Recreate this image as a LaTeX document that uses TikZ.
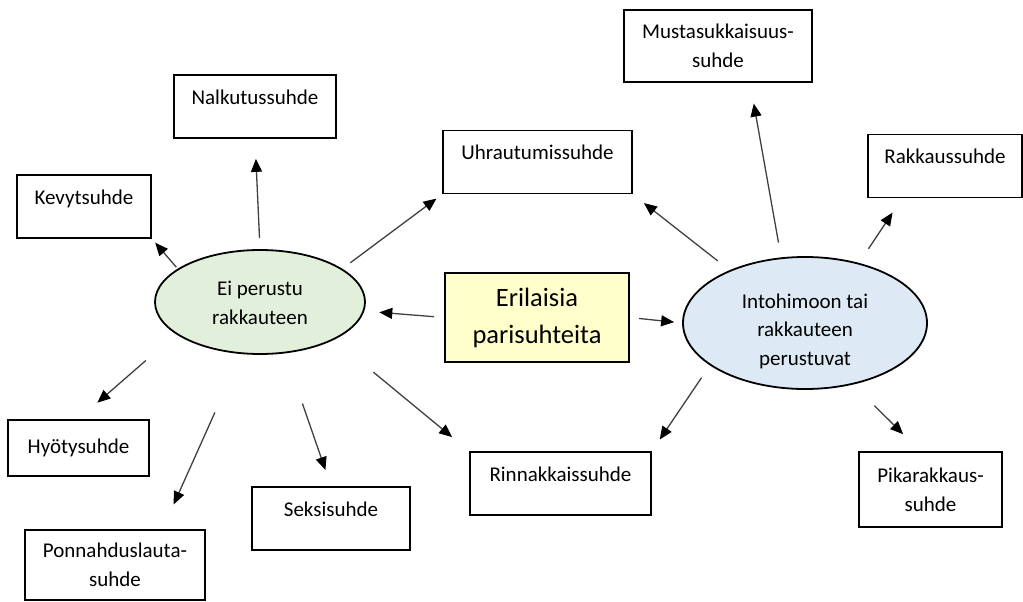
\documentclass[tikz,border=0pt]{standalone}
\usepackage{fontspec}
\setmainfont{Carlito}
\usetikzlibrary{arrows.meta, shapes.geometric}

\definecolor{eigreen}{RGB}{226,239,218}
\definecolor{intoblue}{RGB}{221,234,246}
\definecolor{titleyellow}{RGB}{255,255,204}
\definecolor{arrowgray}{RGB}{64,64,64}

\begin{document}
\begin{tikzpicture}[x=1pt, y=-1pt,
    box node/.style={rectangle, draw, line width=1.8pt, inner sep=0pt, minimum height=63pt, font=\fontsize{21}{29}\selectfont, align=center},
    top text/.style={text height=15pt, text depth=20pt},
    group node/.style={ellipse, draw, line width=1.8pt, inner sep=0pt, font=\fontsize{21}{28.5}\selectfont, align=center},
    main node/.style={rectangle, draw, line width=1.8pt, fill=titleyellow, minimum width=184pt, minimum height=89pt, font=\fontsize{26.5}{37}\selectfont, align=center},
    rel arrow/.style={draw=arrowgray, line width=1.3pt, -{Triangle[length=13pt, width=11pt, color=black]}}]
\useasboundingbox (0,0) rectangle (1023,602);

\node[main node] (erilaisia) at (537,317.5) {Erilaisia\\parisuhteita};
\node[group node, fill=eigreen, minimum width=210pt, minimum height=104pt, text height=48pt, text depth=4pt] (ei) at (260,302) {Ei perustu\\rakkauteen};
\node[group node, fill=intoblue, minimum width=244pt, minimum height=132pt, text height=88pt, text depth=4pt] (into) at (805,323) {Intohimoon tai\\rakkauteen\\perustuvat};

% ei perustu rakkauteen
\node[box node, top text, minimum width=162pt] (nalku) at (255,106.5) {Nalkutussuhde};
\node[box node, top text, minimum width=134pt] (kevyt) at (84,206.5) {Kevytsuhde};
\node[box node, minimum width=141pt, minimum height=56pt] (hyoty) at (78.5,448) {Hyötysuhde};
\node[box node, minimum width=180pt, minimum height=70pt] (ponn) at (115,565) {Ponnahduslauta-\\suhde};
\node[box node, top text, minimum width=158pt] (seksi) at (331,518.5) {Seksisuhde};

% molemmat
\node[box node, top text, minimum width=189pt] (uhr) at (537.5,162) {Uhrautumissuhde};
\node[box node, top text, minimum width=181pt] (rinn) at (560.5,483.5) {Rinnakkaissuhde};

% intohimo
\node[box node, minimum width=188pt, minimum height=72pt] (musta) at (718,46) {Mustasukkaisuus-\\suhde};
\node[box node, top text, minimum width=154pt] (rakk) at (945,166) {Rakkaussuhde};
\node[box node, minimum width=143pt, minimum height=75pt] (pika) at (930.5,489.5) {Pikarakkaus-\\suhde};

\draw[rel arrow, shorten <=10pt, shorten >=15pt] (erilaisia.west) -- (ei.-5);
\draw[rel arrow, shorten <=9pt, shorten >=8pt] (erilaisia.east) -- (into.west);

\draw[rel arrow, shorten <=11pt, shorten >=20pt] (ei.north) -- (nalku.south);
\draw[rel arrow, shorten <=2pt, shorten >=5pt] (ei.158) -- (kevyt.south east);
\draw[rel arrow, shorten <=10pt, shorten >=7pt] (ei.22) -- (uhr.south west);
\draw[rel arrow, shorten <=40pt, shorten >=25pt] (ei.201) -- (hyoty.north);
\draw[rel arrow, shorten <=64pt, shorten >=27pt] (ei.250) -- (ponn.37);
\draw[rel arrow, shorten <=53pt, shorten >=17pt] (ei.-64) -- (seksi.north);
\draw[rel arrow, shorten <=51pt, shorten >=22pt] (ei.-27) -- (rinn.north west);

\draw[rel arrow, shorten <=15pt, shorten >=14pt] (into.145) -- (uhr.south east);
\draw[rel arrow, shorten <=15pt, shorten >=21pt] (into.110) -- (musta.-49);
\draw[rel arrow, shorten <=17pt, shorten >=17pt] (into.48) -- (rakk.217);
\draw[rel arrow, shorten <=15pt, shorten >=14pt] (into.204) -- (rinn.north east);
\draw[rel arrow, shorten <=30pt, shorten >=24pt] (into.-52) -- (pika.105);
\end{tikzpicture}
\end{document}
